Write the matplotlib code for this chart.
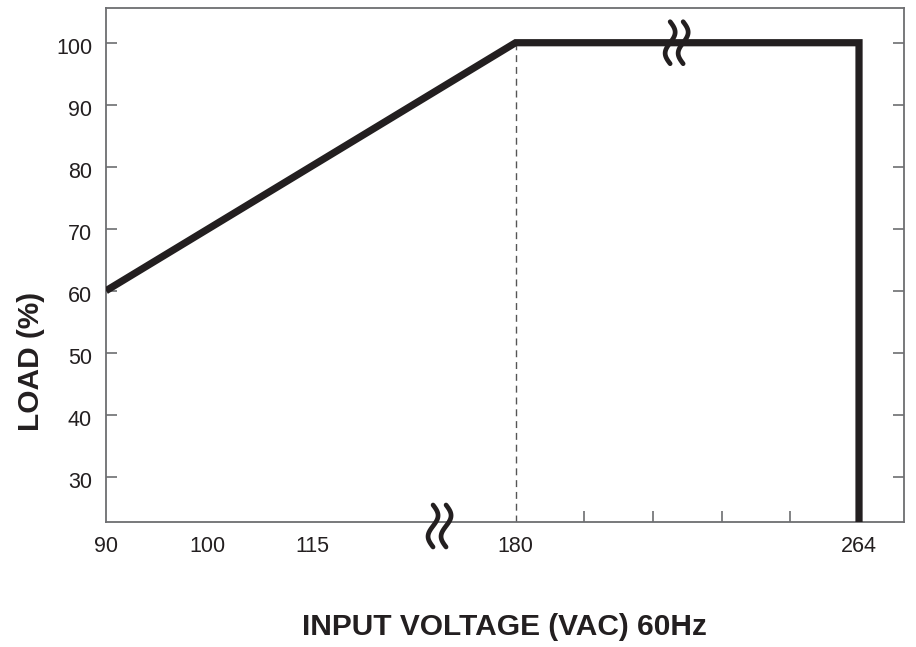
import numpy as np
import matplotlib
matplotlib.use("Agg")
import matplotlib.pyplot as plt
import matplotlib.transforms as mtransforms

# ---- data ----
voltage = [90, 180, 264, 264]
load = [60, 100, 100, 22.7]
x_tick_values = [90, 100, 115, 180, 264]
x_tick_labels = ["90", "100", "115", "180", "264"]
x_minor_values = [196.8, 213.6, 230.4, 247.2]
y_tick_values = [30, 40, 50, 60, 70, 80, 90, 100]
knee_voltage = 180
knee_load = 100
break_x_axis = 155.7
break_top = 219.4

# piecewise (broken) x scale
_v = [60, 90, 100, 115, 180, 264, 320]
_p = [-303, 0, 101, 206, 409, 752, 980.7]
def fwd(x):
    return np.interp(x, _v, _p)
def inv(p):
    return np.interp(p, _p, _v)

plt.rcParams['font.family'] = ['Liberation Sans', 'DejaVu Sans']

ink = "#231f20"
frame = "#6d6e71"

fig = plt.figure(figsize=(9.16, 6.47), dpi=100)
ax = fig.add_axes([106/916, 1-522/647, (904-106)/916, (522-8)/647])
ax.set_xscale('function', functions=(fwd, inv))
ax.set_xlim(90, 275)
ax.set_ylim(22.7, 105.6)

ax.plot(voltage, load, color=ink, lw=5.2, solid_joinstyle='miter', solid_capstyle='butt', zorder=3)
ax.plot([knee_voltage, knee_voltage], [22.7, knee_load], color="#555555", lw=1.0,
        dashes=(5, 3.5), zorder=2)

for s in ax.spines.values():
    s.set_color(frame)
    s.set_linewidth(1.3)

ax.set_yticks(y_tick_values)
ax.tick_params(axis='y', which='major', direction='in', length=8, width=1.2, color=frame,
               right=True, labelsize=15.5, labelcolor=ink, pad=10)
ax.set_xticks(x_tick_values)
ax.set_xticklabels(x_tick_labels)
ax.set_xticks(x_minor_values, minor=True)
ax.tick_params(axis='x', which='major', length=0, labelsize=15.5, labelcolor=ink, pad=10)
ax.tick_params(axis='x', which='minor', direction='in', length=8, width=1.2, color=frame)

shift = mtransforms.ScaledTranslation(0, -2.5/72, fig.dpi_scale_trans)
for lab in ax.get_yticklabels():
    lab.set_transform(lab.get_transform() + shift)

ax.set_xlabel("INPUT VOLTAGE (VAC) 60Hz", fontsize=21.5, fontweight='bold', color=ink)
ax.xaxis.set_label_coords((504-106)/798, (522-613)/514)
ax.set_ylabel("LOAD (%)", fontsize=21.5, fontweight='bold', color=ink)
ax.yaxis.set_label_coords((45-106)/798, (522-361)/514)

fig.canvas.draw()

# break marks (decorations) drawn in pixel offsets around an anchor
def break_mark(anchor_disp):
    t = np.linspace(-1, 1, 80)
    h = 21.0   # half height in px
    amp = 5.0  # px
    for dx in (-6.5, 6.5):
        xs = anchor_disp[0] + dx + amp * np.sin(np.pi * t)
        ys = anchor_disp[1] + h * t
        ax.plot(xs, ys, color=ink, lw=3.4, transform=None, solid_capstyle='round',
                zorder=4, clip_on=False)

xa = ax.get_xaxis_transform().transform((break_x_axis, 0.0))
break_mark((xa[0], xa[1] - 4))
xt = ax.transData.transform((break_top, knee_load))
break_mark((xt[0], xt[1]))

fig.savefig("out.png", dpi=100, facecolor="white")
